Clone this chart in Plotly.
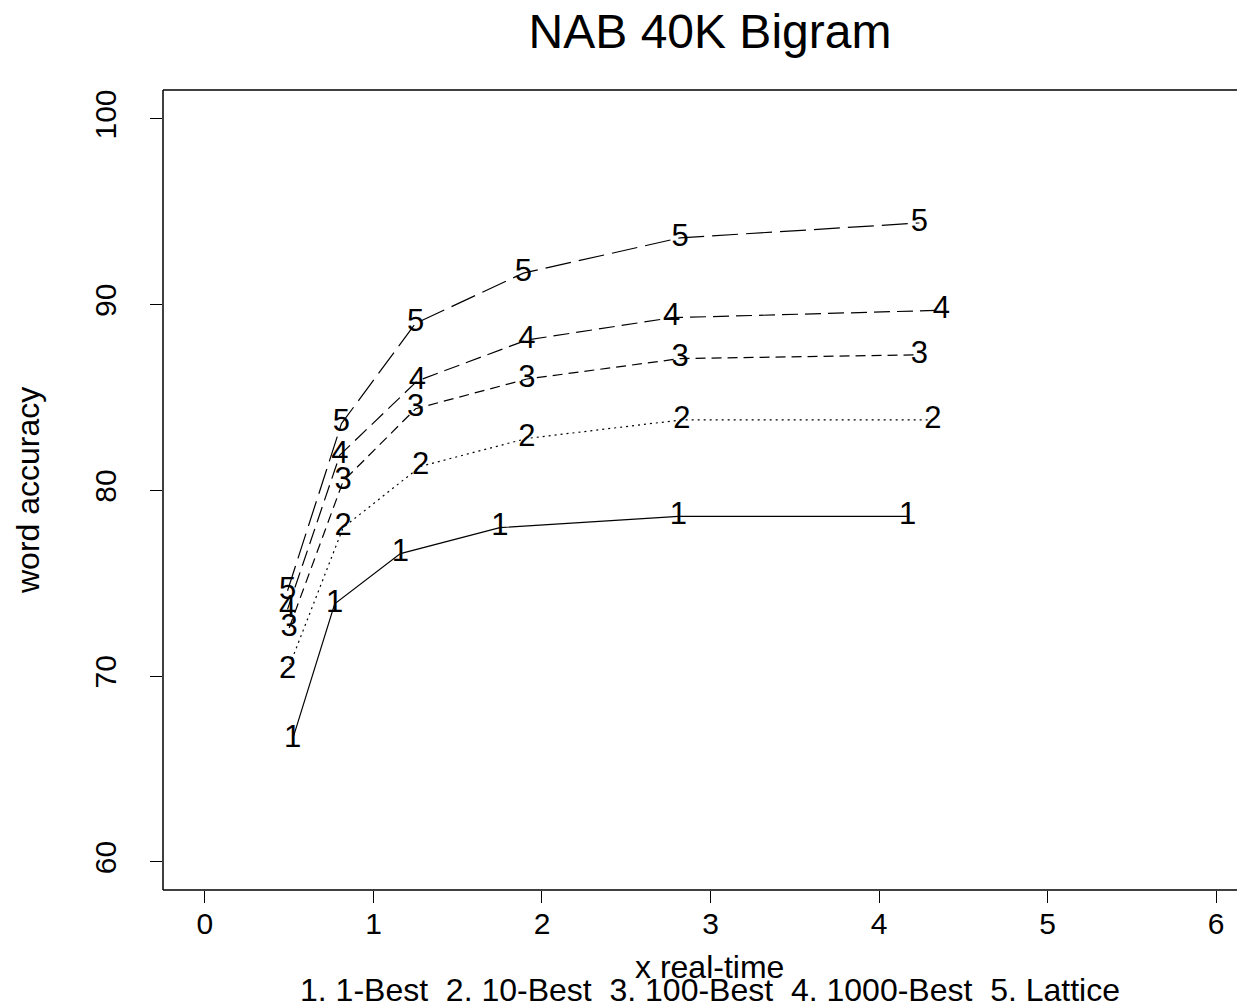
import plotly.graph_objects as go

title = "NAB 40K Bigram"
x_title = "x real-time"
y_title = "word accuracy"
legend_text = "1. 1-Best\u00a0\u00a02. 10-Best\u00a0\u00a03. 100-Best\u00a0\u00a04. 1000-Best\u00a0\u00a05. Lattice"

series_labels = ["1", "2", "3", "4", "5"]
x1 = [0.52, 0.77, 1.16, 1.75, 2.81, 4.17]
y1 = [66.6, 73.9, 76.6, 78.0, 78.6, 78.6]
x2 = [0.49, 0.82, 1.28, 1.91, 2.83, 4.32]
y2 = [70.3, 78.0, 81.3, 82.8, 83.8, 83.8]
x3 = [0.50, 0.82, 1.25, 1.91, 2.82, 4.24]
y3 = [72.6, 80.5, 84.4, 86.0, 87.1, 87.3]
x4 = [0.49, 0.80, 1.26, 1.91, 2.77, 4.37]
y4 = [73.6, 81.9, 85.9, 88.1, 89.3, 89.7]
x5 = [0.49, 0.81, 1.25, 1.89, 2.82, 4.24]
y5 = [74.6, 83.6, 89.0, 91.7, 93.6, 94.4]

xs = [x1, x2, x3, x4, x5]
ys = [y1, y2, y3, y4, y5]
dashes = ["solid", "2px,4px", "10px,6px", "16px,7px", "26px,8px"]

x_ticks = [0, 1, 2, 3, 4, 5, 6]
y_ticks = [60, 70, 80, 90, 100]

FONT = "Liberation Sans, Arial, Helvetica, sans-serif"

# the page body adds an 8px offset; the figure is sized to fill the window
OFF = 8
W, H = 1245 - OFF, 1006 - OFF
L, T, B = 163 - OFF, 90 - OFF, 890 - OFF
PW, PH = W - L, B - T


def px(xi):
    return (xi - OFF - L) / PW


def py(yi):
    return (B - (yi - OFF)) / PH


fig = go.Figure()
for lab, xv, yv, d in zip(series_labels, xs, ys, dashes):
    fig.add_trace(go.Scatter(
        x=xv, y=yv, mode="lines+text",
        text=[lab] * len(xv), textposition="middle center",
        textfont=dict(family=FONT, size=31, color="black"),
        line=dict(color="black", width=1.2, dash=d),
        showlegend=False, hoverinfo="skip", cliponaxis=False,
    ))

fig.update_layout(
    width=W, height=H,
    margin=dict(l=L, r=0, t=T, b=H - B),
    paper_bgcolor="white", plot_bgcolor="white",
    font=dict(family=FONT, color="black", size=30),
    title=dict(text=title, x=(710 - OFF) / W, xanchor="center",
               y=1 - (31 - OFF) / H, yanchor="middle",
               font=dict(size=48, family=FONT)),
    xaxis=dict(range=[-0.249, 6.172], tickvals=x_ticks, ticks="outside",
               ticklen=12, tickcolor="black", tickwidth=1, showgrid=False,
               zeroline=False, showline=False,
               tickfont=dict(size=30, family=FONT), ticklabelstandoff=-5),
    yaxis=dict(range=[58.49, 101.56], tickvals=y_ticks, ticks="outside",
               ticklen=12, tickcolor="black", tickwidth=1, showgrid=False,
               zeroline=False, showline=False, tickangle=-90,
               tickfont=dict(size=30, family=FONT), ticklabelstandoff=22),
)

# plot box: left, top, bottom (right edge lies beyond the picture)
box = dict(color="black", width=1.5)
fig.add_shape(type="line", xref="paper", yref="paper", x0=0, x1=0, y0=0, y1=1, line=box)
fig.add_shape(type="line", xref="paper", yref="paper", x0=0, x1=1, y0=1, y1=1, line=box)
fig.add_shape(type="line", xref="paper", yref="paper", x0=0, x1=1, y0=0, y1=0, line=box)

fig.add_annotation(text=y_title, xref="paper", yref="paper",
                   x=px(28), y=py(491), textangle=-90,
                   showarrow=False, xanchor="center", yanchor="middle",
                   font=dict(size=32, family=FONT))
fig.add_annotation(text=x_title, xref="paper", yref="paper",
                   x=px(709), y=py(967),
                   showarrow=False, xanchor="center", yanchor="middle",
                   font=dict(size=32, family=FONT))
fig.add_annotation(text=legend_text, xref="paper", yref="paper",
                   x=px(710), y=py(990),
                   showarrow=False, xanchor="center", yanchor="middle",
                   font=dict(size=32, family=FONT))

fig.write_html("out.html")
